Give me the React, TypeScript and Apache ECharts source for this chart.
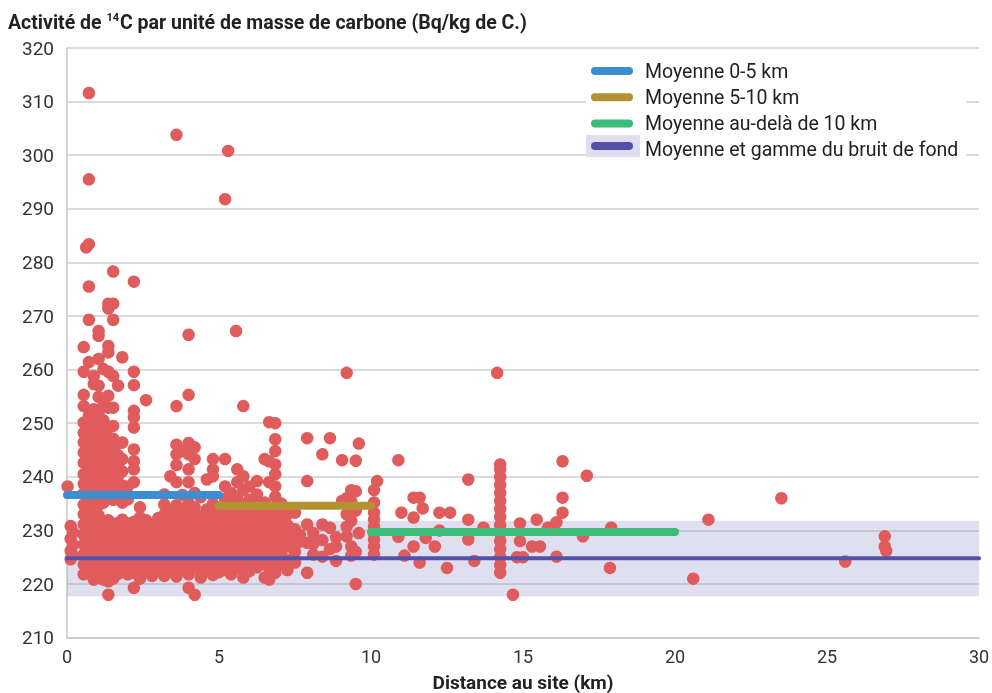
import React, { useEffect, useRef } from "react";
import * as echarts from "echarts";

// Scatter samples, grouped by distance zone: [distance km, [activities Bq/kg C]]
const zoneNear: Array<[number, number[]]> = [
  [0.02, [238.2]],
  [0.12, [224.6, 226.2, 228.4, 230.8]],
  [0.2, [225.3, 227.3, 229.6]],
  [0.55, [221.8, 223.6, 225.5, 227.4, 229.2, 231.1, 233.0, 234.8, 236.9, 238.7, 240.5, 242.6, 244.5, 246.4, 248.2, 250.1, 253.2, 255.3, 259.6, 264.2]],
  [0.63, [282.8]],
  [0.72, [222.6, 224.5, 226.4, 228.3, 230.2, 232.1, 234.0, 235.9, 237.8, 239.7, 241.6, 243.5, 245.4, 247.3, 249.2, 251.4, 261.4, 269.3, 275.5, 283.4, 295.5, 311.6]],
  [0.88, [220.8, 223.1, 225.0, 226.9, 228.8, 230.7, 232.6, 234.5, 236.4, 238.3, 240.2, 242.1, 244.0, 245.9, 247.8, 250.2, 252.6, 257.3, 258.8]],
  [1.04, [221.5, 223.3, 225.2, 227.1, 229.0, 230.9, 232.8, 234.7, 236.6, 238.5, 240.4, 242.3, 244.2, 246.1, 248.0, 249.9, 251.8, 254.9, 257.0, 262.0, 266.3, 267.2]],
  [1.2, [220.8, 222.2, 224.0, 225.9, 227.8, 229.7, 231.6, 235.2, 237.1, 239.0, 240.9, 242.8, 244.7, 246.6, 248.5, 250.5, 253.2, 260.1]],
  [1.36, [218.0, 220.5, 222.4, 224.3, 226.2, 228.1, 230.0, 231.9, 236.0, 237.9, 239.8, 241.7, 243.6, 245.5, 247.4, 249.3, 252.9, 255.1, 259.6, 263.2, 264.4, 271.4, 272.3]],
  [1.52, [221.0, 222.9, 224.8, 226.7, 228.6, 230.5, 235.7, 237.6, 239.5, 241.4, 243.3, 245.2, 247.1, 249.5, 252.9, 258.8, 269.3, 272.3, 278.3]],
  [1.68, [221.9, 223.8, 225.7, 227.6, 229.5, 231.4, 236.4, 238.3, 240.2, 242.1, 244.0, 246.2, 257.0]],
  [1.82, [222.5, 223.0, 224.4, 226.3, 228.2, 230.1, 232.0, 235.2, 238.4, 241.0, 243.3, 246.4, 262.3]],
];

const zoneMid1: Array<[number, number[]]> = [
  [2.0, [221.8, 223.7, 225.6, 227.5, 229.4, 231.3, 235.8, 238.2]],
  [2.2, [219.3, 222.1, 224.0, 225.9, 227.8, 229.7, 231.6, 239.0, 241.4, 242.9, 245.1, 249.2, 251.1, 252.3, 257.1, 259.6, 276.4]],
  [2.4, [221.0, 222.9, 224.8, 226.7, 228.6, 230.5, 232.4, 234.3]],
  [2.6, [222.4, 223.3, 224.3, 226.2, 228.1, 230.0, 231.9, 254.3]],
  [2.8, [221.5, 223.4, 225.3, 227.2, 229.1, 231.0]],
  [3.0, [222.8, 224.7, 226.6, 228.5, 230.4, 232.3]],
  [3.2, [221.5, 223.4, 225.3, 227.2, 229.1, 231.0, 232.9, 234.8, 236.7]],
  [3.4, [222.3, 224.2, 226.1, 228.0, 229.9, 231.8, 233.7, 240.1]],
  [3.6, [221.4, 223.3, 225.2, 227.1, 229.0, 230.9, 232.8, 234.7, 239.0, 242.2, 244.2, 246.0, 253.2, 303.8]],
  [3.8, [222.6, 224.5, 226.4, 228.3, 230.2, 232.1, 234.0, 236.6, 244.8]],
  [4.0, [219.3, 221.8, 223.7, 225.6, 227.5, 229.4, 231.3, 233.2, 235.1, 239.0, 241.4, 244.2, 246.3, 255.3, 266.5]],
  [4.2, [218.0, 222.9, 224.8, 226.7, 228.6, 230.5, 232.4, 234.3, 237.0, 243.3, 245.5]],
  [4.4, [221.2, 223.1, 225.0, 226.9, 228.8, 230.7, 232.6, 236.2]],
  [4.6, [222.5, 224.4, 226.3, 228.2, 230.1, 232.0, 233.9, 239.5]],
  [4.8, [221.7, 223.6, 225.5, 227.4, 229.3, 231.2, 233.1, 235.0, 240.1, 241.4, 243.3]],
];

const zoneMid2: Array<[number, number[]]> = [
  [5.0, [222.2, 224.1, 226.0, 227.9, 229.8, 231.7, 233.6]],
  [5.2, [222.6, 224.5, 226.4, 228.3, 230.2, 232.1, 234.0, 235.9, 238.2, 243.3, 291.8]],
  [5.3, [300.8]],
  [5.4, [221.8, 223.7, 225.6, 227.5, 229.4, 231.3, 233.2, 235.1, 237.0]],
  [5.56, [267.2]],
  [5.6, [222.9, 224.8, 226.7, 228.6, 230.5, 232.4, 234.3, 236.2, 239.0, 241.4]],
  [5.8, [221.2, 223.4, 225.3, 227.2, 229.1, 231.0, 232.9, 234.8, 237.6, 240.1, 253.2]],
  [6.0, [222.4, 224.3, 226.2, 228.1, 230.0, 231.9, 233.8, 235.7, 238.2]],
  [6.25, [223.1, 225.0, 226.9, 228.8, 230.7, 232.6, 234.5, 236.7, 239.2]],
  [6.5, [221.2, 223.8, 225.7, 227.6, 229.5, 231.4, 233.3, 235.2, 243.3]],
  [6.65, [220.8, 222.9, 224.8, 226.7, 228.6, 230.5, 232.4, 234.3, 239.0, 242.9, 250.2]],
  [6.85, [222.1, 224.0, 226.0, 228.0, 230.0, 232.0, 234.0, 236.3, 238.2, 240.5, 242.3, 244.8, 247.0, 250.0]],
  [7.05, [223.5, 225.4, 227.3, 229.2, 231.1, 233.0, 235.0]],
  [7.25, [222.6, 224.5, 227.0, 229.0, 231.0, 233.0]],
  [7.5, [224.0, 226.0, 228.2, 230.2, 233.3]],
  [7.66, [227.9, 229.2]],
  [7.9, [222.1, 227.7, 231.1, 239.2, 247.2]],
  [8.1, [225.5, 227.5, 229.5]],
  [8.4, [225.1, 228.2, 231.1, 244.2]],
  [8.65, [226.5, 230.5, 247.2]],
  [8.85, [224.3, 227.0, 228.7]],
  [9.05, [235.5, 243.1]],
  [9.2, [228.9, 230.7, 233.0, 236.0, 259.4]],
  [9.35, [225.3, 227.0, 231.8, 235.4, 237.5]],
  [9.5, [220.0, 226.0, 233.7, 237.3, 243.0]],
  [9.6, [229.5, 246.2]],
  [10.1, [225.5, 227.0, 228.3, 229.5, 230.7, 232.0, 233.3, 235.2, 237.5]],
];

const zoneFar: Array<[number, number[]]> = [
  [10.2, [239.2]],
  [10.9, [228.8, 243.1]],
  [11.0, [233.3]],
  [11.1, [225.3]],
  [11.4, [227.0, 232.4, 236.1]],
  [11.6, [224.0, 236.1]],
  [11.7, [234.1]],
  [11.8, [228.6]],
  [12.1, [227.0]],
  [12.25, [230.0, 233.3]],
  [12.5, [223.0]],
  [12.6, [233.3]],
  [13.2, [228.3, 232.0, 239.5]],
  [13.4, [224.3]],
  [13.7, [230.5]],
  [14.15, [259.4]],
  [14.25, [222.1, 223.5, 225.0, 226.5, 228.0, 229.5, 231.0, 232.5, 234.0, 235.5, 237.0, 238.5, 240.0, 241.4, 242.3]],
  [14.67, [218.0]],
  [14.8, [225.0]],
  [14.9, [228.0, 231.3]],
  [15.0, [225.0]],
  [15.3, [227.0]],
  [15.45, [232.0]],
  [15.56, [227.0]],
  [15.82, [230.5]],
  [16.1, [225.1, 231.5]],
  [16.3, [233.3, 236.1, 242.9]],
  [16.97, [228.9]],
  [17.1, [240.2]],
  [17.86, [223.0]],
  [17.9, [230.5]],
  [20.6, [221.0]],
  [21.1, [232.0]],
  [23.5, [236.0]],
  [25.6, [224.2]],
  [26.9, [227.0, 228.9]],
  [26.95, [226.2]],
];

// Averages
const mean0to5: [number, number][] = [[0, 236.6], [5, 236.6]];
const mean5to10: [number, number][] = [[5, 234.6], [10, 234.6]];
const meanBeyond10: [number, number][] = [[10, 229.7], [20, 229.7]];
const meanBackground: [number, number][] = [[0, 224.8], [30, 224.8]];
const backgroundRange: [number, number] = [217.7, 231.8];

const names = [
  "Moyenne 0-5 km",
  "Moyenne 5-10 km",
  "Moyenne au-delà de 10 km",
  "Moyenne et gamme du bruit de fond",
];

const flatten = (zones: Array<[number, number[]]>[]) => {
  const out: [number, number][] = [];
  zones.forEach((z) => z.forEach(([x, ys]) => ys.forEach((y) => out.push([x, y]))));
  return out;
};

export default function App() {
  const ref = useRef<HTMLDivElement>(null);
  useEffect(() => {
    const chart = echarts.init(ref.current!, null, { renderer: "svg" });
    const points = flatten([zoneNear, zoneMid1, zoneMid2, zoneFar]);
    const lineSeries = (name: string, data: [number, number][], color: string, width: number) => ({
      name,
      type: "line",
      data,
      showSymbol: false,
      symbol: "none",
      z: 4,
      color,
      lineStyle: { color, width, cap: "round" },
      silent: true,
    });
    chart.setOption({
      animation: false,
      title: {
        left: 8,
        top: 12,
        padding: 0,
        text: "{b|Activité de }{s|14}{b|C par unité de masse de carbone (Bq/kg de C.)}",
        textStyle: {
          rich: {
            b: { fontFamily: "Roboto", fontWeight: "bold", fontSize: 19.5, color: "#222", lineHeight: 20 },
            s: { fontFamily: "Roboto", fontWeight: "bold", fontSize: 11, color: "#222", lineHeight: 20, verticalAlign: "top", padding: [0, 1, 0, 0] },
          },
        },
      },
      legend: {
        orient: "vertical",
        left: 586,
        top: 57,
        padding: [4, 8, 4, 5],
        backgroundColor: "#fff",
        itemWidth: 42,
        itemHeight: 8,
        itemGap: 6.2,
        icon: "path://M4,0 L38,0 A4,4 0 0 1 38,8 L4,8 A4,4 0 0 1 4,0 Z",
        data: names,
        textStyle: { fontFamily: "Roboto", fontSize: 19.5, color: "#222", lineHeight: 19, padding: [0, 0, 0, 7] },
        selectedMode: false,
      },
      grid: { left: 67, right: 13, top: 48, bottom: 55.4, containLabel: false, outerBoundsMode: "none" },
      xAxis: {
        type: "value",
        min: 0,
        max: 30,
        interval: 5,
        name: "Distance au site (km)",
        nameLocation: "middle",
        nameGap: 35,
        nameTextStyle: { fontFamily: "Roboto", fontWeight: "bold", fontSize: 19, color: "#222" },
        axisLine: { show: true, lineStyle: { color: "#c8c8c8", width: 1.5 } },
        axisTick: { show: false },
        splitLine: { show: false },
        axisLabel: { fontFamily: "Roboto", fontSize: 18, color: "#333", margin: 10 },
      },
      yAxis: {
        type: "value",
        min: 210,
        max: 320,
        interval: 10,
        axisLine: { show: true, lineStyle: { color: "#c8c8c8", width: 1.5 } },
        axisTick: { show: false },
        splitLine: { show: true, lineStyle: { color: "#cfcfcf", width: 1.5 } },
        axisLabel: { fontFamily: "Roboto", fontSize: 19, color: "#333", margin: 13 },
      },
      graphic: [
        { type: "rect", z: 50, zlevel: 0, shape: { x: 586, y: 135, width: 54, height: 22 }, style: { fill: "#dedeef" } },
        { type: "rect", z: 51, zlevel: 0, shape: { x: 591, y: 142, width: 42, height: 8, r: 4 }, style: { fill: "#5452a8" } },
      ],
      series: [
        {
          name: "band",
          type: "line",
          data: [],
          z: 1,
          silent: true,
          markArea: {
            silent: true,
            itemStyle: { color: "rgba(150,150,205,0.3)" },
            data: [[{ xAxis: 0, yAxis: backgroundRange[0] }, { xAxis: 30, yAxis: backgroundRange[1] }]],
          },
        },
        {
          name: "Mesures",
          type: "scatter",
          data: points,
          symbolSize: 12.5,
          z: 2,
          itemStyle: { color: "#e05c5c", opacity: 1 },
        },
        lineSeries(names[0], mean0to5, "#3b8ed0", 8),
        lineSeries(names[1], mean5to10, "#b39232", 8),
        lineSeries(names[2], meanBeyond10, "#3cbc76", 8),
        lineSeries(names[3], meanBackground, "#5452a8", 4),
      ],
    });
    return () => chart.dispose();
  }, []);
  return <div ref={ref} style={{ position: "fixed", left: 0, top: 0, width: 992, height: 693 }} />;
}
